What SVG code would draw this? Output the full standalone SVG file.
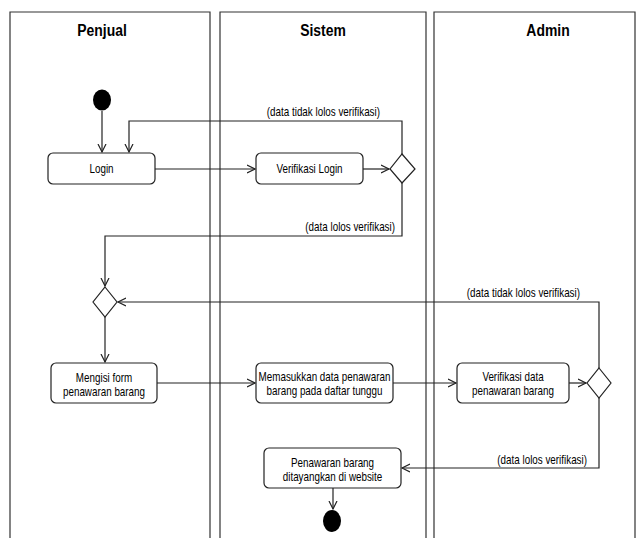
<svg xmlns="http://www.w3.org/2000/svg" width="642" height="538" viewBox="0 0 642 538">
<style>
.lane{fill:none;stroke:#333;stroke-width:1.2}
.hdr{font-family:"Liberation Sans",Arial,sans-serif;font-weight:bold;font-size:17px;fill:#000;text-anchor:middle}
.box{fill:#fff;stroke:#222;stroke-width:1.2}
.t{font-family:"Liberation Sans",Arial,sans-serif;font-size:12px;fill:#000;text-anchor:middle}
.lbl{font-family:"Liberation Sans",Arial,sans-serif;font-size:12px;fill:#000;text-anchor:end}
.c{fill:none;stroke:#222;stroke-width:1.2;marker-end:url(#arr)}
.dot{fill:#000}
</style>
<defs>
<marker id="arr" markerUnits="userSpaceOnUse" markerWidth="10" markerHeight="10" refX="8" refY="4" orient="auto" viewBox="0 0 10 8">
<path d="M0,0 L8,4 L0,8" fill="none" stroke="#222" stroke-width="1.2"/>
</marker>
</defs>
<g id="lanes">
<path class="lane" d="M10,540 V12 H210 V540"/>
<path class="lane" d="M220,540 V12 H426 V540"/>
<path class="lane" d="M434,540 V12 H635 V540"/>
<text class="hdr" transform="translate(102,36) scale(0.82,1)">Penjual</text>
<text class="hdr" transform="translate(323,36) scale(0.82,1)">Sistem</text>
<text class="hdr" transform="translate(548,36) scale(0.82,1)">Admin</text>
</g>
<g id="connectors">
<path class="c" d="M102,111 V152"/>
<path class="c" d="M155,169 H255"/>
<path class="c" d="M363,169 H389"/>
<path class="c" d="M402,154 V121 H129 V152"/>
<path class="c" d="M402,183 V236 H105 V286"/>
<path class="c" d="M105,317 V362"/>
<path class="c" d="M157,383 H255"/>
<path class="c" d="M393,383 H456"/>
<path class="c" d="M569,383 H586"/>
<path class="c" d="M599,368 V302 H118"/>
<path class="c" d="M599,398 V468 H402"/>
<path class="c" d="M333,488 V509"/>
<text class="lbl" transform="translate(380,116) scale(0.82,1)">(data tidak lolos verifikasi)</text>
<text class="lbl" transform="translate(395,231) scale(0.82,1)">(data lolos verifikasi)</text>
<text class="lbl" transform="translate(580,297) scale(0.82,1)">(data tidak lolos verifikasi)</text>
<text class="lbl" transform="translate(587,464) scale(0.82,1)">(data lolos verifikasi)</text>
</g>
<g id="start"><ellipse class="dot" cx="102" cy="100" rx="9" ry="10.5"/></g>
<g id="login"><rect class="box" x="48" y="153" width="107" height="31" rx="5"/><text class="t" transform="translate(101.5,173) scale(0.82,1)">Login</text></g>
<g id="verifikasi-login"><rect class="box" x="256" y="153" width="107" height="31" rx="5"/><text class="t" transform="translate(309.5,173) scale(0.82,1)">Verifikasi Login</text></g>
<g id="decision1"><polygon class="box" points="402,154 415,169 402,183 390,169"/></g>
<g id="decision2"><polygon class="box" points="105,287 117,302 105,317 93,302"/></g>
<g id="mengisi-form"><rect class="box" x="51" y="363" width="106" height="40" rx="5"/><text class="t" transform="translate(104,382) scale(0.82,1)">Mengisi form</text><text class="t" transform="translate(104,396) scale(0.82,1)">penawaran barang</text></g>
<g id="memasukkan-data"><rect class="box" x="256" y="363" width="137" height="40" rx="5"/><text class="t" transform="translate(324.5,381) scale(0.82,1)">Memasukkan data penawaran</text><text class="t" transform="translate(324.5,395) scale(0.82,1)">barang pada daftar tunggu</text></g>
<g id="verifikasi-data"><rect class="box" x="457" y="363" width="112" height="40" rx="5"/><text class="t" transform="translate(513,381) scale(0.82,1)">Verifikasi data</text><text class="t" transform="translate(513,395) scale(0.82,1)">penawaran barang</text></g>
<g id="decision3"><polygon class="box" points="599,368 611,383 599,398 587,383"/></g>
<g id="penawaran-tayang"><rect class="box" x="264" y="448" width="137" height="40" rx="5"/><text class="t" transform="translate(332.5,467) scale(0.82,1)">Penawaran barang</text><text class="t" transform="translate(332.5,481) scale(0.82,1)">ditayangkan di website</text></g>
<g id="end"><ellipse class="dot" cx="332" cy="521" rx="9" ry="11"/></g>
</svg>
